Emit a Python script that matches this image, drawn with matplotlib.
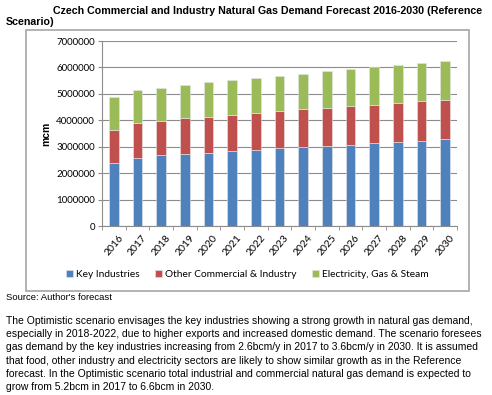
import matplotlib.pyplot as plt
import matplotlib.patches as mpatches
import numpy as np

plt.rcParams['font.family'] = ['Lato', 'DejaVu Sans']

# data (mcm)
years = ['2016', '2017', '2018', '2019', '2020', '2021', '2022', '2023',
         '2024', '2025', '2026', '2027', '2028', '2029', '2030']
key_ind = [2375000, 2590000, 2670000, 2730000, 2780000, 2830000, 2880000, 2950000,
           2990000, 3040000, 3080000, 3130000, 3180000, 3230000, 3280000]
other_ci = [1265000, 1310000, 1320000, 1340000, 1350000, 1360000, 1390000, 1390000,
            1420000, 1430000, 1450000, 1450000, 1480000, 1490000, 1490000]
elec_gas = [1260000, 1240000, 1250000, 1260000, 1300000, 1320000, 1320000, 1340000,
            1360000, 1380000, 1410000, 1430000, 1440000, 1450000, 1490000]
y_ticks = [0, 1000000, 2000000, 3000000, 4000000, 5000000, 6000000, 7000000]

series_names = ['Key Industries', 'Other Commercial & Industry', 'Electricity, Gas & Steam']
colors = ['#4f81bd', '#c0504d', '#9bbb59']

W, H = 492, 395
fig = plt.figure(figsize=(W / 100, H / 100), dpi=100)

# chart frame
fig.patches.append(mpatches.Rectangle((26 / W, 1 - 291 / H), 443 / W, 261 / H,
                                      transform=fig.transFigure, fill=False,
                                      edgecolor='#a6a6a6', linewidth=1.2))

ax = fig.add_axes([102 / W, 1 - 226 / H, 355 / W, 185 / H])
x = np.arange(len(years))
bottom = np.zeros(len(years))
for vals, name, c in zip([key_ind, other_ci, elec_gas], series_names, colors):
    ax.bar(x, vals, width=0.4, bottom=bottom, color=c, label=name,
           edgecolor='#e8e8e8', linewidth=0.4, zorder=3)
    bottom += np.array(vals)

ax.set_xlim(-0.5, len(years) - 0.5)
ax.set_ylim(0, 7000000)
ax.set_yticks(y_ticks)
ax.set_yticklabels([str(v) for v in y_ticks], fontsize=7)
ax.yaxis.grid(True, color='#8c8c8c', linewidth=0.8, zorder=0)
ax.tick_params(axis='y', length=3, color='#8c8c8c', pad=2)

ax.set_xticks(x)
ax.set_xticklabels(years, rotation=50, fontsize=7.5, ha='center')
ax.set_xticks(np.arange(-0.5, len(years), 1), minor=True)
ax.tick_params(axis='x', which='major', length=0, pad=5)
ax.tick_params(axis='x', which='minor', length=3, color='#8c8c8c')

for s in ['top', 'right']:
    ax.spines[s].set_visible(False)
for s in ['left', 'bottom']:
    ax.spines[s].set_color('#8c8c8c')
    ax.spines[s].set_linewidth(0.8)

ax.set_ylabel('mcm', fontsize=7.5, fontweight='bold', family=['Liberation Sans'], labelpad=4)

ax.legend(loc='center', bbox_to_anchor=(0.41, -0.26), ncol=3, frameon=False,
          fontsize=7.3, handlelength=0.7, handleheight=0.7, handletextpad=0.3,
          columnspacing=1.5)

# title and surrounding text
fig.text(53 / W, 1 - 11 / H, 'Czech Commercial and Industry Natural Gas Demand Forecast 2016-2030 (Reference',
         fontsize=7.7, fontweight='bold', family=['Liberation Sans'], va='center')
fig.text(6 / W, 1 - 22 / H, 'Scenario)',
         fontsize=7.7, fontweight='bold', family=['Liberation Sans'], va='center')
fig.text(6 / W, 1 - 297 / H, "Source: Author's forecast",
         fontsize=6.8, family=['Liberation Sans'], va='center')

para = ["The Optimistic scenario envisages the key industries showing a strong growth in natural gas demand,",
        "especially in 2018-2022, due to higher exports and increased domestic demand. The scenario foresees",
        "gas demand by the key industries increasing from 2.6bcm/y in 2017 to 3.6bcm/y in 2030. It is assumed",
        "that food, other industry and electricity sectors are likely to show similar growth as in the Reference",
        "forecast. In the Optimistic scenario total industrial and commercial natural gas demand is expected to",
        "grow from 5.2bcm in 2017 to 6.6bcm in 2030."]
for i, line in enumerate(para):
    fig.text(6 / W, 1 - (321 + i * 13.2) / H, line, fontsize=7.5,
             family=['Liberation Sans'], va='center')

fig.savefig('out.png', dpi=100)
